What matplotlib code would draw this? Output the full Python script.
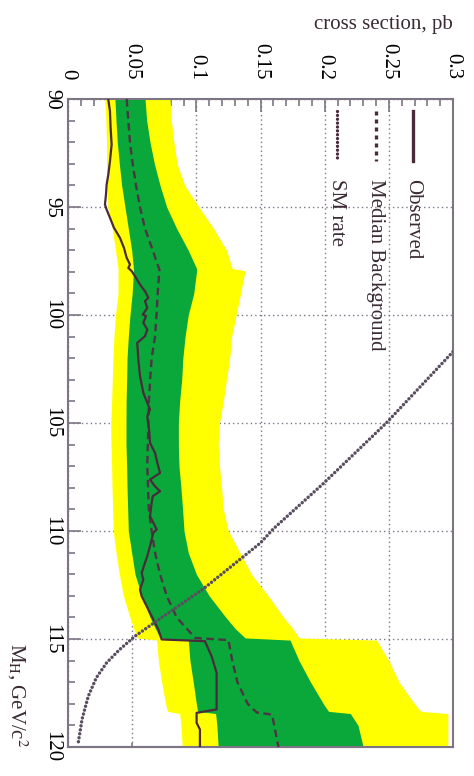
import numpy as np
import matplotlib.pyplot as plt
from matplotlib.ticker import MultipleLocator

plt.rcParams['font.family'] = ['Liberation Serif', 'DejaVu Serif']
plt.rcParams['mathtext.fontset'] = 'stix'

# Higgs mass grid for the expected bands
mh_band = [90, 91, 92, 93, 94, 95, 96, 97, 97.85, 97.95, 99, 100, 101, 102, 103, 104,
           105, 106, 107, 108, 109, 110, 111, 112, 113, 114, 114.5, 114.95, 115.05,
           116, 117, 118, 118.35, 118.45, 119, 120]
yellow_lo = [0.0288, 0.0295, 0.030, 0.030, 0.0305, 0.031, 0.0345, 0.037, 0.039, 0.039,
             0.039, 0.037, 0.0358, 0.035, 0.0345, 0.034, 0.0333, 0.0335, 0.034, 0.0343,
             0.0348, 0.0353, 0.0374, 0.040, 0.0431, 0.0483, 0.051, 0.054, 0.069,
             0.0704, 0.073, 0.076, 0.0775, 0.087, 0.088, 0.089]
green_lo = [0.0366, 0.0374, 0.0384, 0.040, 0.0418, 0.0444, 0.047, 0.0496, 0.051, 0.051,
            0.050, 0.0483, 0.047, 0.046, 0.0457, 0.0453, 0.0452, 0.0452, 0.0457, 0.046,
            0.0465, 0.047, 0.0496, 0.0522, 0.0574, 0.0639, 0.068, 0.0717, 0.0937,
            0.095, 0.0976, 0.100, 0.101, 0.115, 0.116, 0.117]
green_hi = [0.060, 0.0613, 0.0639, 0.0673, 0.0717, 0.0769, 0.0847, 0.0937, 0.1002, 0.1002,
            0.098, 0.0937, 0.0912, 0.0895, 0.0886, 0.087, 0.086, 0.086, 0.0865, 0.088,
            0.0893, 0.0904, 0.0937, 0.100, 0.110, 0.123, 0.130, 0.138, 0.173,
            0.180, 0.189, 0.199, 0.203, 0.220, 0.226, 0.230]
yellow_hi = [0.0795, 0.0805, 0.0825, 0.085, 0.091, 0.102, 0.1135, 0.1235, 0.128, 0.138,
             0.1345, 0.131, 0.1275, 0.126, 0.1235, 0.121, 0.118, 0.117, 0.118, 0.1197,
             0.121, 0.125, 0.134, 0.143, 0.156, 0.168, 0.175, 0.180, 0.2405,
             0.250, 0.258, 0.270, 0.275, 0.296, 0.296, 0.296]

# median expected (background only)
mh_med = [90, 91, 92, 93, 94, 95, 96, 97, 97.9, 99, 100, 101, 102, 103, 104, 105, 107,
          109, 110, 111, 112, 113, 114, 114.95, 115.05, 116, 117, 118, 118.4, 118.5, 120]
median = [0.0457, 0.047, 0.0483, 0.0504, 0.053, 0.0561, 0.060, 0.066, 0.0712, 0.0699,
          0.069, 0.0678, 0.0652, 0.064, 0.063, 0.0626, 0.0618, 0.063, 0.0652, 0.0678,
          0.0717, 0.0769, 0.0847, 0.099, 0.125, 0.128, 0.132, 0.140, 0.147, 0.159, 0.164]

# observed limit
mh_obs = [90.02, 90.56, 91.33, 92.11, 92.88, 93.5, 93.96, 94.42, 94.88, 95.12, 95.5,
          95.96, 96.43, 96.89, 97.35, 97.66, 97.82, 97.97, 98.28, 98.59, 98.9, 99.2,
          99.36, 99.67, 99.98, 100.05, 100.36, 100.67, 100.98, 101.29, 102.06, 102.83,
          103.6, 104.07, 104.37, 104.68, 105.45, 105.92, 106.38, 106.84, 107.31, 107.62,
          107.93, 108.16, 108.39, 108.7, 109.31, 109.62, 109.93, 110.08, 110.39, 110.7,
          111.16, 111.47, 111.94, 112.25, 112.71, 113.02, 113.48, 114.1, 114.56, 115.02,
          115.1, 115.8, 116.56, 118.26, 118.42, 118.88, 119.19, 120]
observed = [0.0314, 0.0327, 0.0332, 0.034, 0.0327, 0.0314, 0.0301, 0.0296, 0.0288, 0.0301,
            0.0327, 0.0358, 0.0405, 0.0436, 0.0457, 0.0483, 0.047, 0.0496, 0.053, 0.0561,
            0.060, 0.0626, 0.060, 0.0618, 0.0582, 0.0608, 0.0587, 0.0618, 0.060, 0.054,
            0.0548, 0.0561, 0.0587, 0.0618, 0.0639, 0.0618, 0.0634, 0.0639, 0.0678,
            0.0696, 0.0717, 0.0639, 0.0678, 0.0717, 0.066, 0.0652, 0.0639, 0.0665, 0.0691,
            0.0665, 0.0652, 0.0639, 0.0618, 0.060, 0.0574, 0.0587, 0.0561, 0.0574, 0.0613,
            0.0665, 0.0704, 0.073, 0.1067, 0.1119, 0.1158, 0.1158, 0.1002, 0.1002, 0.1028,
            0.1028]

# standard model cross section
mh_sm = [101.7, 105.0, 107.8, 109.9, 110.55, 112.7, 113.95, 114.87, 115.5, 116.1,
         116.8, 117.65, 118.7, 119.8]
sm_rate = [0.300, 0.248, 0.199, 0.160, 0.150, 0.105, 0.0743, 0.0522, 0.040, 0.0301,
           0.022, 0.0158, 0.011, 0.008]

xticks = [0, 0.05, 0.1, 0.15, 0.2, 0.25, 0.3]
xlabels = ['0', '0.05', '0.1', '0.15', '0.2', '0.25', '0.3']
yticks = [90, 95, 100, 105, 110, 115, 120]

frame = '#7d7484'
line_col = '#4a2a3a'

fig = plt.figure(figsize=(4.74, 7.76), dpi=100)
ax = fig.add_axes([68 / 474, 1 - 747 / 776, 385 / 474, 648 / 776])

ax.fill_betweenx(mh_band, yellow_lo, yellow_hi, color='#ffff00', lw=0, zorder=1)
ax.fill_betweenx(mh_band, green_lo, green_hi, color='#0aa83a', lw=0, zorder=1.1)
ax.plot(median, mh_med, color='#4e3444', lw=1.7, ls=(0, (3.2, 1.9)), zorder=3)
ax.plot(observed, mh_obs, color=line_col, lw=1.6, zorder=3)
ax.plot(sm_rate, mh_sm, color='#584e60', lw=2.5, ls=(0, (0.01, 1.15)),
        dash_capstyle='round', zorder=3)

ax.set_xlim(0, 0.3)
ax.set_ylim(120, 90)
ax.set_xticks(xticks)
ax.set_xticklabels(xlabels, rotation=-90)
ax.set_yticks(yticks)
ax.set_yticklabels([str(v) for v in yticks], rotation=-90, va='center')
ax.xaxis.set_minor_locator(MultipleLocator(0.01))
ax.yaxis.set_minor_locator(MultipleLocator(1))
ax.tick_params(axis='x', which='both', direction='in', top=True, bottom=False,
               labeltop=True, labelbottom=False, color=frame, width=1.2,
               labelsize=15, pad=14)
ax.tick_params(axis='y', which='both', direction='in', left=True, right=False,
               color=frame, width=1.2, labelsize=15, pad=5)
ax.tick_params(which='major', length=9)
ax.tick_params(which='minor', length=5)
for s in ax.spines.values():
    s.set_color(frame)
    s.set_linewidth(1.5)

sec = ax.secondary_xaxis('bottom')
sec.set_xticks(xticks)
sec.set_xticklabels([])
sec.tick_params(direction='in', length=3, color=frame, width=1.2)
sec.spines['bottom'].set_color(frame)
sec.spines['bottom'].set_linewidth(1.5)

ax.grid(True, which='major', color=frame, lw=1.0, ls=(0, (1, 2.2)))
ax.set_axisbelow(True)

# legend, drawn rotated like the rest of the page
leg = [('Observed', '-', 0.896), ('Median Background', (0, (1.2, 1.2)), 0.799),
       ('SM rate', (0, (0.01, 1.15)), 0.698)]
for name, style, xa in leg:
    ax.plot([xa, xa], [0.982, 0.905], transform=ax.transAxes, color=line_col,
            lw=2.4, ls=style, dash_capstyle='round' if name == 'SM rate' else 'butt',
            zorder=4)
    ax.text(xa, 0.877, name, transform=ax.transAxes, rotation=-90, ha='center',
            va='top', fontsize=15, color='#3a2a34', zorder=4)

fig.text(453 / 474, 1 - 25 / 776, 'cross section, pb', ha='right', va='center',
         fontsize=15, color='#3a2a34')
fig.text(17 / 474, 1 - 747 / 776, r'M$_\mathrm{H}$, GeV/c$^2$', rotation=-90,
         ha='center', va='bottom', fontsize=15, color='#3a2a34')

fig.savefig('out.png', dpi=100)
